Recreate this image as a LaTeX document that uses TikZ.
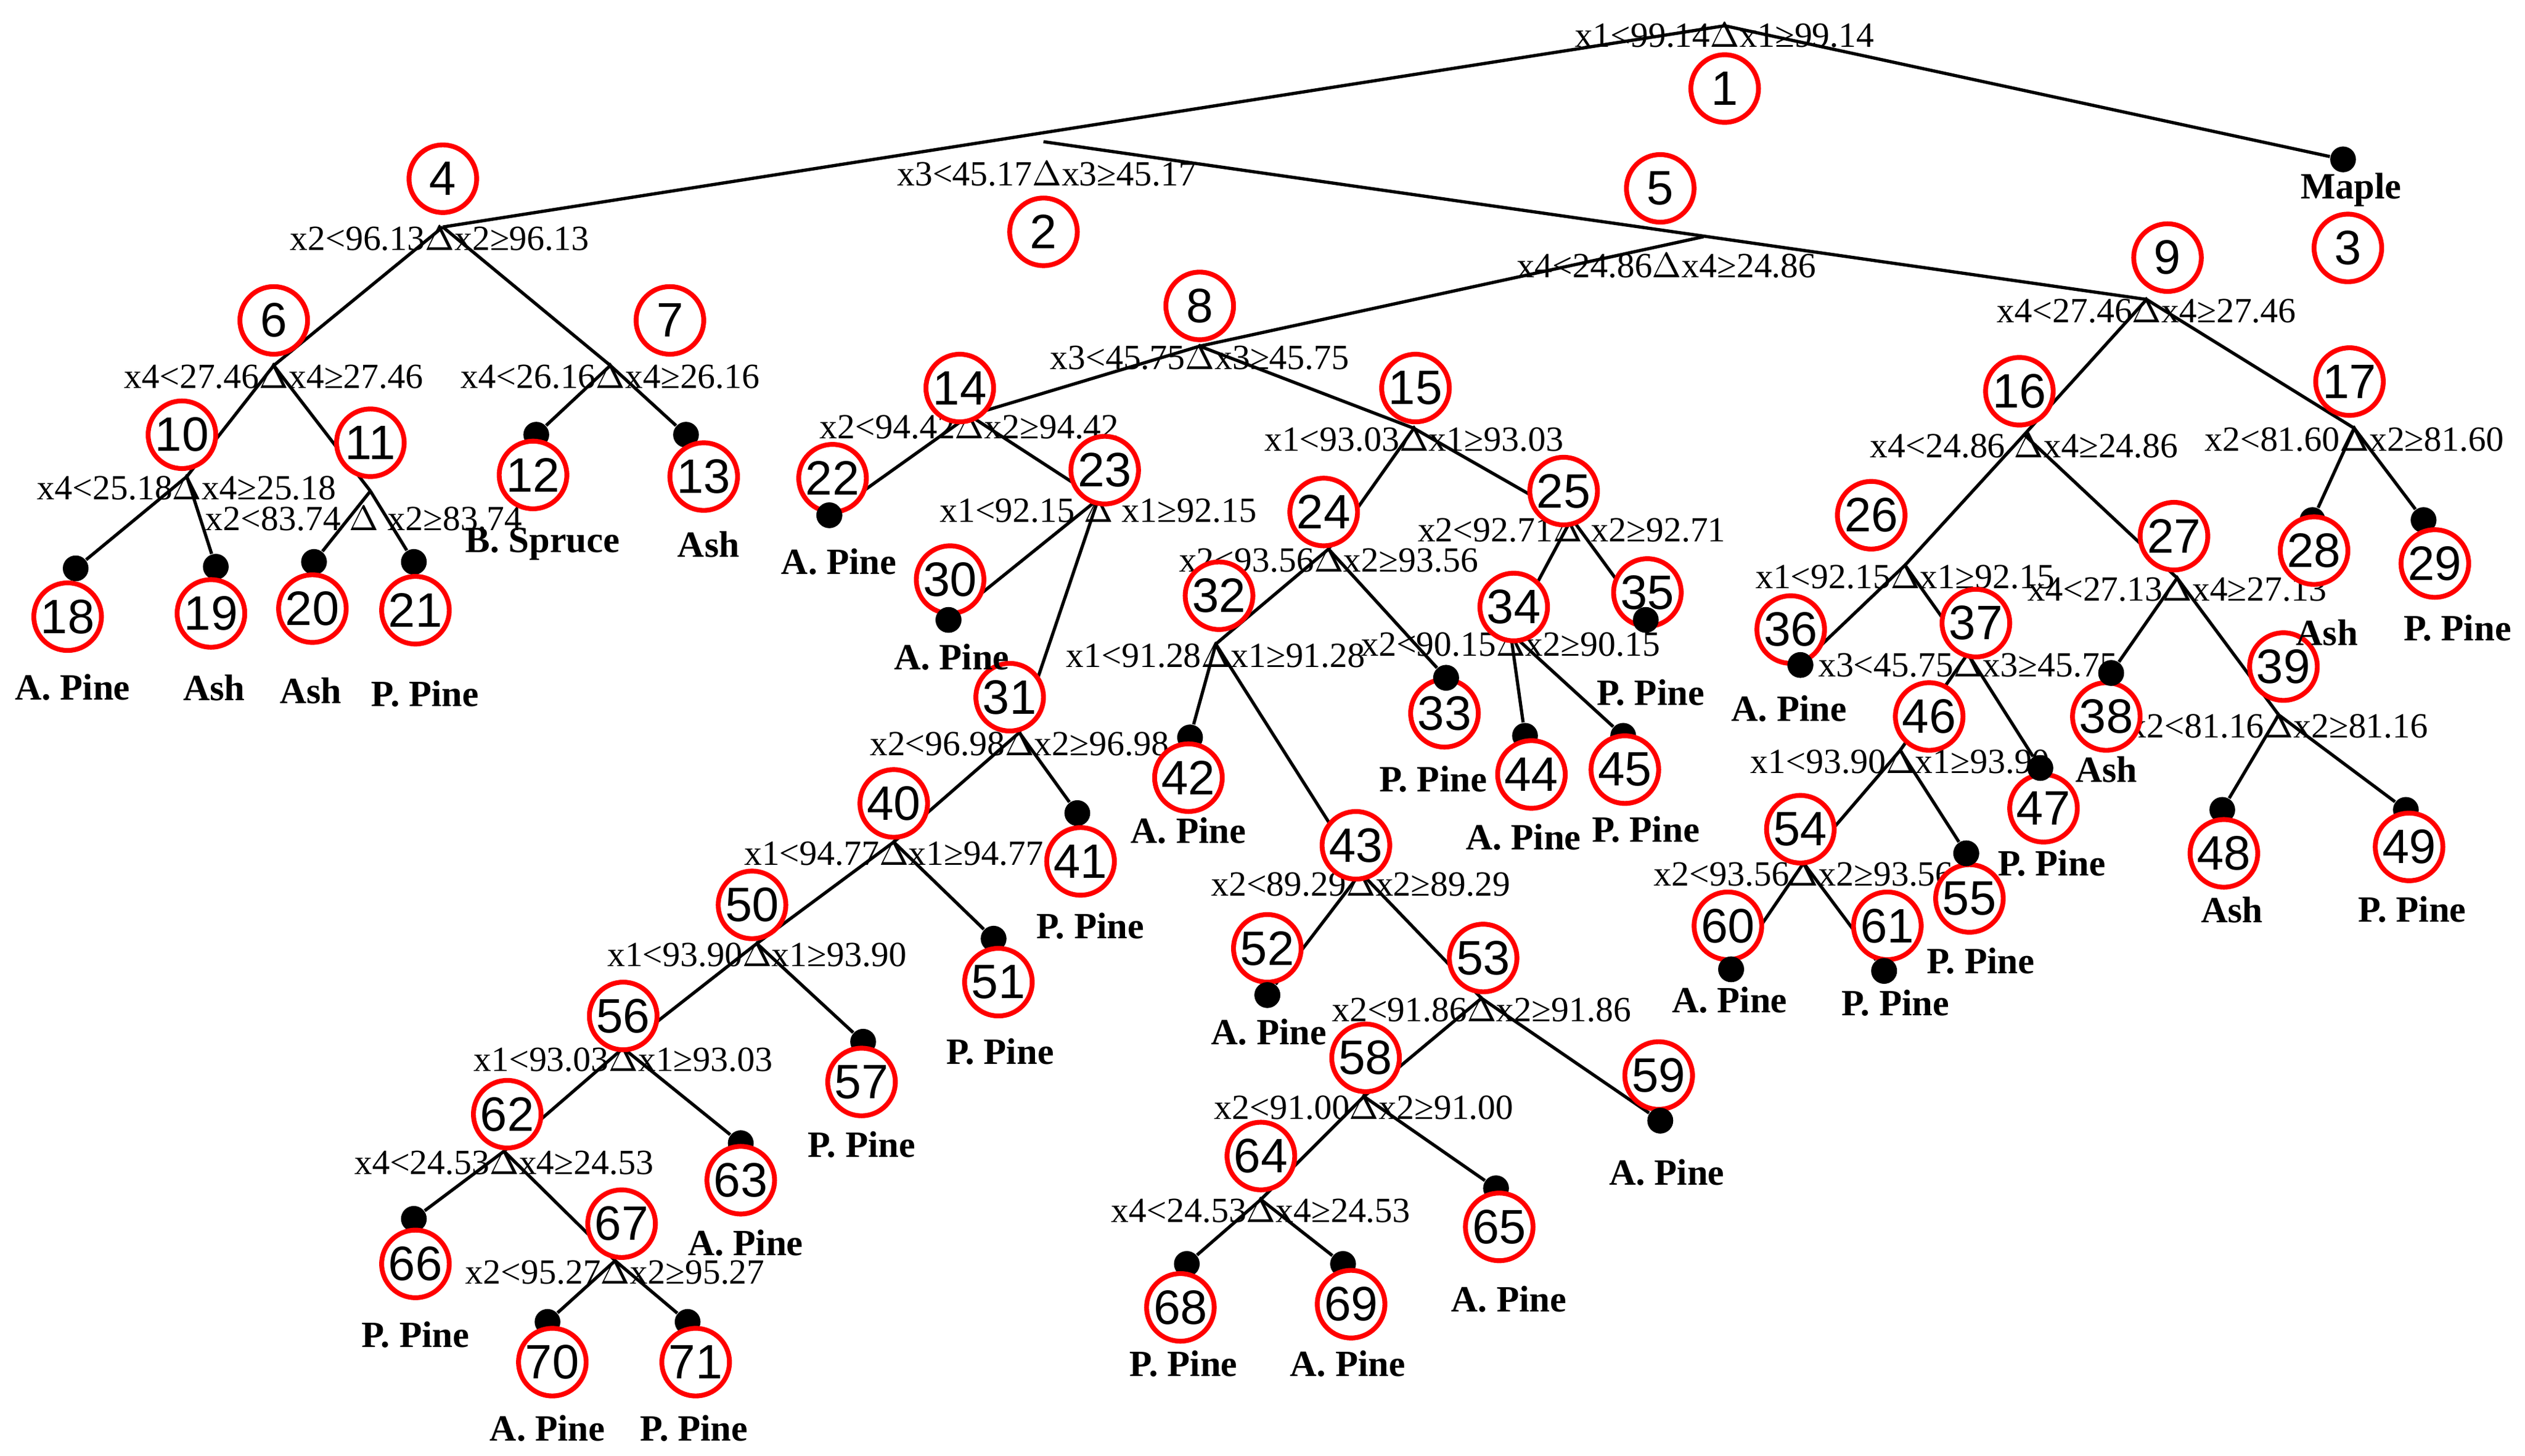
\documentclass[tikz,border=0pt]{standalone}
\usepackage{fontspec}
\setmainfont{Liberation Serif}
\newfontfamily\numfont{Liberation Sans}
\begin{document}
\begin{tikzpicture}[x=0.5pt,y=-0.5pt,
  edge/.style={line width=1pt,black},
  num/.style={circle,draw=red,line width=1.5pt,fill=white,minimum size=21pt,inner sep=0pt,font=\numfont\fontsize{15}{15}\selectfont},
  dot/.style={circle,fill=black,minimum size=8pt,inner sep=0pt},
  cond/.style={font=\fontsize{11}{11}\selectfont,inner sep=0pt},
  cls/.style={font=\bfseries\fontsize{11.5}{11.5}\selectfont,inner sep=0pt}]
\useasboundingbox (0,0) rectangle (1568,904);
% split points
\coordinate (s1) at (1071,16);
\coordinate (s4) at (275,141);
\coordinate (s2) at (648,88);
\coordinate (s9) at (1333,186);
\coordinate (s5) at (1058,147);
\foreach \n/\x/\y in {6/170/227,7/379/227,8/745/215,10/116/296,11/230/305,14/602/258,15/878/266,16/1257/270,17/1462/266,23/682/310,24/825/341,25/976/322,26/1183/351,27/1352/359,31/633/455,32/755/400,34/938/393,37/1222/406,39/1415/444,40/555/523,43/845/542,46/1180/466,50/470/586,53/920/620,54/1120/536,56/387/651,58/847/681,62/313/715,64/783/745,67/382/783}
  \coordinate (s\n) at (\x,\y);
% dots
\foreach \n/\x/\y in {Maple/1455/99,12/333/270,13/426/270,18/47/353,19/134/352,20/195/349,21/257/349,22/515/320,28/1436/323,29/1505/323,30/589/385,33/898/421,35/1022/385,36/1118/413,38/1311/418,41/669/505,42/739/458,44/947/457,45/1008/457,47/1267/477,48/1380/503,49/1494/503,51/617/583,52/787/618,55/1221/530,57/536/647,59/1031/696,60/1075/602,61/1170/603,63/460/710,65/929/738,66/257/757,68/737/785,69/834/785,70/340/821,71/427/821}
  \node[dot] (d\n) at (\x,\y) {};
% edges
\foreach \a/\b in {s1/s4,s1/dMaple,s2/s9,s5/s8,s4/s6,s4/s7,s6/s10,s6/s11,s10/d18,s10/d19,s11/d20,s11/d21,s7/d12,s7/d13,s8/s14,s8/s15,s14/d22,s14/s23,s23/d30,s23/s31,s31/s40,s31/d41,s40/s50,s40/d51,s50/s56,s50/d57,s56/s62,s56/d63,s62/d66,s62/s67,s67/d70,s67/d71,s15/s24,s15/s25,s24/s32,s24/d33,s32/d42,s32/s43,s43/d52,s43/s53,s53/s58,s53/d59,s58/s64,s58/d65,s64/d68,s64/d69,s25/s34,s25/d35,s34/d44,s34/d45,s9/s16,s9/s17,s17/d28,s17/d29,s16/s26,s16/s27,s26/d36,s26/s37,s37/s46,s37/d47,s46/s54,s46/d55,s54/d60,s54/d61,s27/d38,s27/s39,s39/d48,s39/d49}
  \draw[edge] (\a) -- (\b);
% condition labels
\foreach \n/\x/\y/\t in {1/1071/22/{x1<99.14$\Delta$x1≥99.14},2/650/108/{x3<45.17$\Delta$x3≥45.17},4/273/148/{x2<96.13$\Delta$x2≥96.13},5/1035/165/{x4<24.86$\Delta$x4≥24.86},9/1333/193/{x4<27.46$\Delta$x4≥27.46},6/170/234/{x4<27.46$\Delta$x4≥27.46},7/379/234/{x4<26.16$\Delta$x4≥26.16},8/745/222/{x3<45.75$\Delta$x3≥45.75},10/116/303/{x4<25.18$\Delta$x4≥25.18},11/226/322/{x2<83.74 $\Delta$ x2≥83.74},14/602/265/{x2<94.42$\Delta$x2≥94.42},15/878/273/{x1<93.03$\Delta$x1≥93.03},16/1257/277/{x4<24.86 $\Delta$x4≥24.86},17/1462/273/{x2<81.60$\Delta$x2≥81.60},23/682/317/{x1<92.15 $\Delta$ x1≥92.15},24/825/348/{x2<93.56$\Delta$x2≥93.56},25/976/329/{x2<92.71$\Delta$ x2≥92.71},26/1183/358/{x1<92.15$\Delta$x1≥92.15},27/1352/366/{x4<27.13$\Delta$x4≥27.13},31/633/462/{x2<96.98$\Delta$x2≥96.98},32/755/407/{x1<91.28$\Delta$x1≥91.28},34/938/400/{x2<90.15$\Delta$x2≥90.15},37/1222/413/{x3<45.75$\Delta$x3≥45.75},39/1415/451/{x2<81.16$\Delta$x2≥81.16},40/555/530/{x1<94.77$\Delta$x1≥94.77},43/845/549/{x2<89.29$\Delta$x2≥89.29},46/1180/473/{x1<93.90$\Delta$x1≥93.90},50/470/593/{x1<93.90$\Delta$x1≥93.90},53/920/627/{x2<91.86$\Delta$x2≥91.86},54/1120/543/{x2<93.56$\Delta$x2≥93.56},56/387/658/{x1<93.03$\Delta$x1≥93.03},58/847/688/{x2<91.00$\Delta$x2≥91.00},62/313/722/{x4<24.53$\Delta$x4≥24.53},64/783/752/{x4<24.53$\Delta$x4≥24.53},67/382/790/{x2<95.27$\Delta$x2≥95.27}}
  \node[cond] (c\n) at (\x,\y) {\t};
% numbered circles
\foreach \n/\x/\y in {1/1071/55,2/648/144,3/1458/154,4/275/111,5/1031/117,6/170/199,7/416/199,8/745/190,9/1346/160,10/113/270,11/230/275,12/331/295,13/437/296,14/596/241,15/879/241,16/1254/243,17/1459/237,18/42/383,19/131/381,20/194/378,21/258/379,22/517/297,23/686/292,24/822/318,25/971/305,26/1162/320,27/1350/333,28/1437/342,29/1512/350,30/590/360,31/627/433,32/757/370,33/897/443,34/940/377,35/1023/368,36/1112/391,37/1227/387,38/1308/445,39/1418/414,40/555/499,41/671/535,42/738/483,43/842/525,44/951/481,45/1009/478,46/1198/445,47/1269/502,48/1381/530,49/1496/526,50/467/562,51/620/610,52/787/589,53/921/595,54/1118/515,55/1223/558,56/387/631,57/535/672,58/848/657,59/1030/668,60/1073/575,61/1172/575,62/315/692,63/460/733,64/783/718,65/931/762,66/258/785,67/386/760,68/733/812,69/839/810,70/343/846,71/432/846}
  \node[num] (n\n) at (\x,\y) {\n};
% redraw dots on top
\foreach \n/\x/\y in {22/515/320,30/589/385,33/898/421,35/1022/385,36/1118/413,38/1311/418,47/1267/477,55/1221/530,60/1075/602,61/1170/603,52/787/618,59/1031/696}
  \node[dot] (e\n) at (\x,\y) {};
% class labels
\foreach \n/\x/\y/\t in {Maple/1460/118/Maple,12/337/338/B. Spruce,13/440/338/Ash,18/45/427/A. Pine,19/133/427/Ash,20/193/429/Ash,21/264/431/P. Pine,22/521/349/A. Pine,30/591/408/A. Pine,33/890/484/P. Pine,35/1025/430/P. Pine,36/1111/440/A. Pine,44/946/520/A. Pine,45/1022/515/P. Pine,38/1308/478/Ash,47/1274/536/P. Pine,28/1445/393/Ash,29/1526/390/P. Pine,48/1386/565/Ash,49/1498/565/P. Pine,42/738/516/A. Pine,41/677/575/P. Pine,51/621/653/P. Pine,52/788/641/A. Pine,55/1230/597/P. Pine,60/1074/621/A. Pine,61/1177/623/P. Pine,59/1035/728/A. Pine,65/937/807/A. Pine,68/735/847/P. Pine,69/837/847/A. Pine,57/535/711/P. Pine,63/463/772/A. Pine,66/258/829/P. Pine,70/340/887/A. Pine,71/431/887/P. Pine}
  \node[cls] (l\n) at (\x,\y) {\t};
\end{tikzpicture}
\end{document}
